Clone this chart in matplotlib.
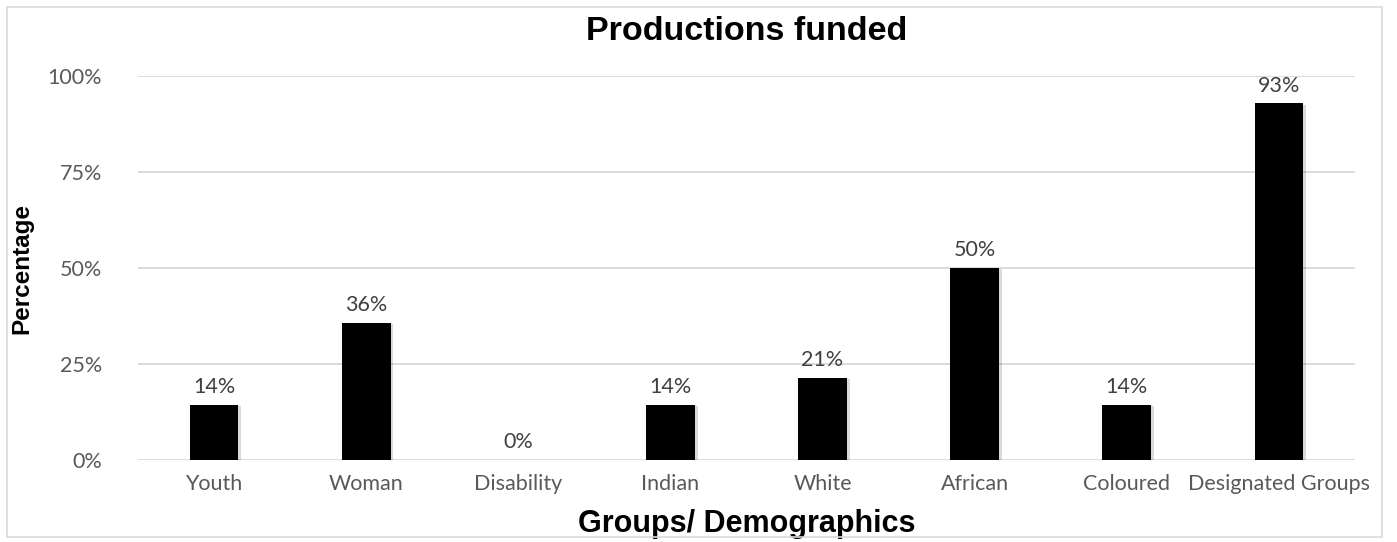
import matplotlib.pyplot as plt
from matplotlib.patches import Rectangle
import matplotlib.patheffects as pe

categories = ["Youth", "Woman", "Disability", "Indian", "White", "African", "Coloured", "Designated Groups"]
values = [14.3, 35.7, 0.0, 14.3, 21.4, 50.0, 14.3, 92.9]
yticks = [0, 25, 50, 75, 100]

TEXT_GREY = "#595959"
LABEL_FONT = "Lato"

fig = plt.figure(figsize=(13.97, 5.42), dpi=100)
ax = fig.add_axes([138 / 1397, (542 - 460) / 542, (1355 - 138) / 1397, (460 - 76) / 542])

# chart border
fig.patches.append(Rectangle((7 / 1397, 5 / 542), 1375 / 1397, 530 / 542, transform=fig.transFigure,
                             fill=False, edgecolor="#d9d9d9", linewidth=1.2))

x = range(len(categories))
bars = ax.bar(x, values, width=0.32, color="black", zorder=3,
              path_effects=[pe.SimplePatchShadow(offset=(2, -1), alpha=0.15), pe.Normal()])
for xi, v in zip(x, values):
    ax.text(xi, v + 2, f"{v:.0f}%", ha="center", va="bottom", fontsize=15.5,
            family=LABEL_FONT, color="#404040")

ax.set_xlim(-0.5, len(categories) - 0.5)
ax.set_ylim(0, 100)
ax.set_yticks(yticks)
ax.set_yticklabels([f"{t}%" for t in yticks], family=LABEL_FONT, fontsize=15.5, color=TEXT_GREY)
ax.set_xticks(list(x))
ax.set_xticklabels(categories, family=LABEL_FONT, fontsize=15.5, color=TEXT_GREY)
ax.tick_params(axis="both", length=0, pad=10)
ax.tick_params(axis="y", pad=26)
ax.grid(axis="y", color="#d9d9d9", linewidth=1.3, zorder=0)
for s in ax.spines.values():
    s.set_visible(False)

ax.set_title("Productions funded", fontsize=24.5, fontweight="bold", family="Liberation Sans", pad=26)
ax.set_xlabel("Groups/ Demographics", fontsize=22, fontweight="bold", family="Liberation Sans", labelpad=11)
ax.set_ylabel("Percentage", fontsize=17.5, fontweight="bold", family="Liberation Sans", labelpad=10)

fig.savefig("out.png", dpi=100)
